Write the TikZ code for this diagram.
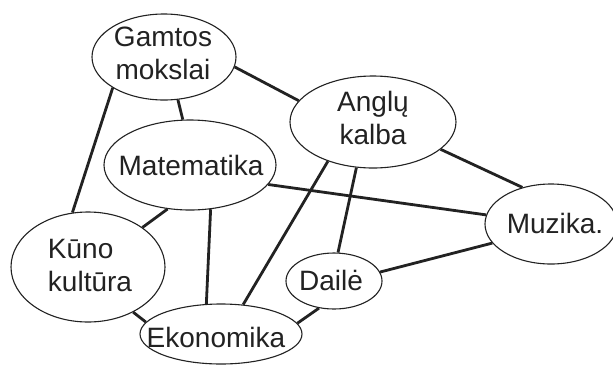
\documentclass[tikz,border=0pt]{standalone}
\usepackage{fontspec}
\setmainfont{Liberation Sans}
\usetikzlibrary{shapes.geometric}
\definecolor{ink}{HTML}{222222}
\begin{document}
\begin{tikzpicture}[x=1pt,y=-1pt,
  bubble/.style={draw=ink,line width=1.1pt,ellipse,inner sep=0pt},
  txt/.style={text=ink,font=\fontsize{28}{33}\selectfont,align=center,inner sep=0pt},
  link/.style={draw=ink,line width=2.8pt}]
\useasboundingbox[fill=white] (0,0) rectangle (613,365);
\node[bubble,minimum width=144pt,minimum height=86pt] (g) at (164,57) {};
\node[bubble,minimum width=166pt,minimum height=92pt] (a) at (373,122) {};
\node[bubble,minimum width=172pt,minimum height=90pt] (m) at (190,165) {};
\node[bubble,minimum width=154pt,minimum height=110pt] (k) at (88,267) {};
\node[bubble,minimum width=162pt,minimum height=60pt] (e) at (221,334) {};
\node[bubble,minimum width=96pt,minimum height=56pt] (d) at (334,281) {};
\node[bubble,minimum width=132pt,minimum height=80pt] (z) at (551,224) {};
\node[txt] at (163,53) {Gamtos\\mokslai};
\node[txt] at (373,118) {Anglų\\kalba};
\node[txt] at (191,165) {Matematika};
\node[txt,align=left] at (90,265) {Kūno\\kultūra};
\node[txt] at (216,337) {Ekonomika};
\node[txt] at (331,280) {Dailė};
\node[txt] at (555,223) {Muzika.};
\draw[link] (g.211) -- (k.106);
\draw[link] (g.288) -- (m.99);
\draw[link] (g.352) -- (a.164);
\draw[link] (a.338) -- (z.128);
\draw[link] (a.250) -- (d.82);
\draw[link] (a.221) -- (e.53);
\draw[link] (m.346) -- (z.172);
\draw[link] (m.243) -- (k.36);
\draw[link] (m.295) -- (e.116);
\draw[link] (k.315) -- (e.171);
\draw[link] (d.241) -- (e.8);
\draw[link] (d.11) -- (z.198);
\end{tikzpicture}
\end{document}
